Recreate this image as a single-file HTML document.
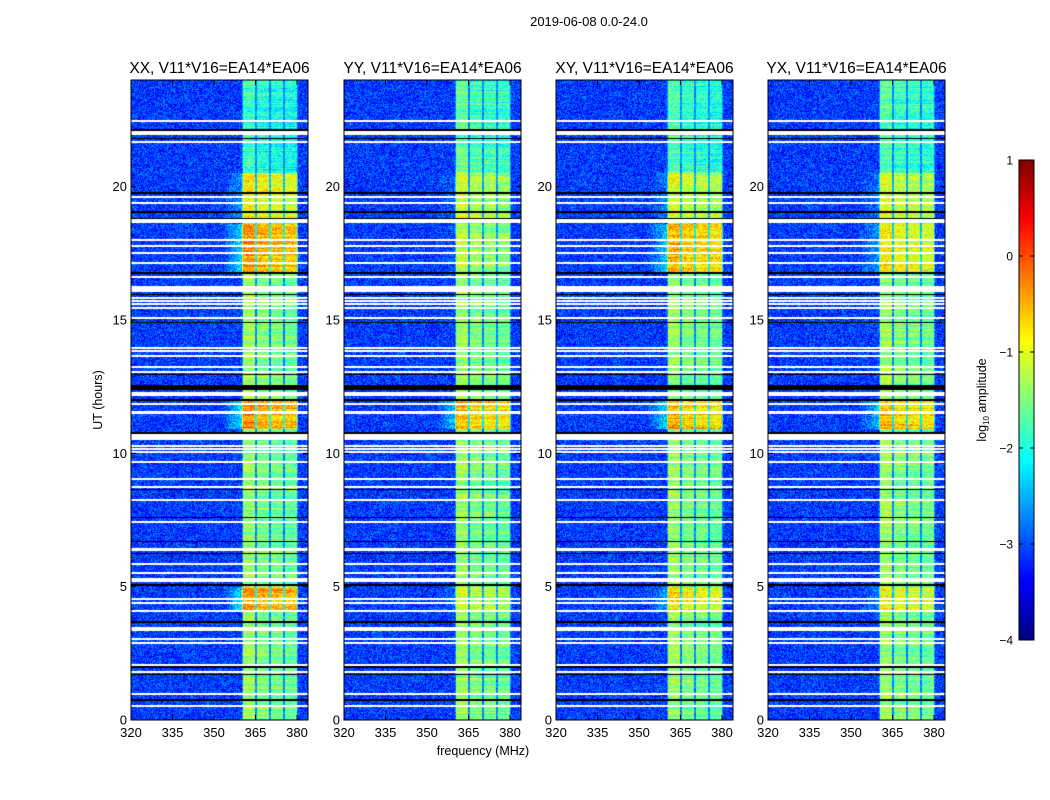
<!DOCTYPE html>
<html><head><meta charset="utf-8">
<style>
html,body{margin:0;padding:0;background:#fff;}
#wrap{position:relative;width:1050px;height:800px;overflow:hidden;font-family:"Liberation Sans",sans-serif;}
canvas,svg{position:absolute;left:0;top:0;}
</style></head>
<body>
<div id="wrap">
<canvas id="cv" width="1050" height="800"></canvas>
<svg id="sv" width="1050" height="800"></svg>
</div>
<script>
// ---------- data ----------
const panelTitles = ["XX, V11*V16=EA14*EA06","YY, V11*V16=EA14*EA06","XY, V11*V16=EA14*EA06","YX, V11*V16=EA14*EA06"];
const freqTicks = [320,335,350,365,380];
const timeTicks = [0,5,10,15,20];
const cbarTicks = [1,0,-1,-2,-3,-4];
const bgLevel = -3.1;
// sub-band stripes [fStart,fEnd,level]
const bandStripes = [[360.5,364.8,-1.35],[365.5,369.9,-1.5],[370.6,374.9,-1.55],[375.7,380.0,-1.6]];
// flagged (white) rows, hours [start,end]
const flagRows = [[22.42,22.50],[21.93,22.07],[21.62,21.72],[19.58,19.64],[19.36,19.42],[18.62,18.78],[17.97,18.03],[17.75,17.81],[17.48,17.54],[17.11,17.17],[16.58,16.64],[16.21,16.27],[16.13,16.19],[16.06,16.12],[15.80,15.86],[15.68,15.74],[15.57,15.63],[15.42,15.48],[15.05,15.11],[13.92,13.98],[13.81,13.87],[13.62,13.68],[13.21,13.27],[13.02,13.08],[12.15,12.30],[11.82,11.88],[11.46,11.60],[10.50,10.74],[10.24,10.30],[10.13,10.19],[10.02,10.08],[9.64,9.70],[9.01,9.07],[8.71,8.77],[8.22,8.28],[7.39,7.45],[6.33,6.46],[5.82,5.88],[5.48,5.54],[5.16,5.32],[4.51,4.57],[4.36,4.42],[4.06,4.12],[3.34,3.49],[3.01,3.07],[2.86,2.92],[2.03,2.09],[1.77,1.83],[0.94,1.00],[0.49,0.55]];
// black rows (hours)
const blackRows = [[22.10,22.15],[21.77,21.82],[19.74,19.79],[19.03,19.08],[18.78,18.82],[16.74,16.79],[15.92,15.97],[14.87,14.92],[12.92,12.97],[12.37,12.57],[11.98,12.03],[10.74,10.79],[8.61,8.66],[7.56,7.61],[6.66,6.71],[6.21,6.26],[5.04,5.09],[3.65,3.70],[1.94,2.02],[1.67,1.72],[0.73,0.78]];
// per-panel boosts [hStart,hEnd,add]
const boostsXX = [[18.8,20.5,0.55],[16.8,18.6,1.0],[10.9,11.95,1.05],[4.05,5.0,1.05]];
const boostsYY = [[18.8,20.5,0.25],[16.8,18.6,0.15],[10.9,11.95,0.85],[4.05,5.0,0.3]];
const boostsXY = [[18.8,20.5,0.35],[16.8,18.6,0.85],[10.9,11.95,0.9],[4.05,5.0,0.6]];
const boostsYX = [[18.8,20.5,0.35],[16.8,18.6,0.55],[10.9,11.95,0.8],[4.05,5.0,0.45]];
const panelBoosts = [boostsXX,boostsYY,boostsXY,boostsYX];
const topBandDrop = [0.5,0.3,0.4,0.35]; // band dimmer above 20.5h

// ---------- geometry ----------
const lefts=[131,344,556,768], PW=177, PT=80, PH=640, PXM=2.767;
const fx=(p,f)=>lefts[p]+(f-320)*PXM;
const ty=h=>720-h*(PH/24);
const xf=(p,x)=>320+(x-lefts[p])/PXM;
const yt=y=>(720-y)/(PH/24);

function jet(v){
  let x=Math.max(0,Math.min(1,(v+4)/5));
  const c=t=>Math.round(255*Math.max(0,Math.min(1,t)));
  return [c(1.5-Math.abs(4*x-3)),c(1.5-Math.abs(4*x-2)),c(1.5-Math.abs(4*x-1))];
}
function hash(a,b){let h=(a*374761393+b*668265263)|0;h=(h^(h>>>13))*1274126177|0;h=h^(h>>>16);return ((h>>>0)%10000)/10000;}

const cv=document.getElementById('cv');const ctx=cv.getContext('2d');
const img=ctx.createImageData(1050,800);
function put(x,y,r,g,b){const i=(y*1050+x)*4;img.data[i]=r;img.data[i+1]=g;img.data[i+2]=b;img.data[i+3]=255;}
for(let y=0;y<800;y++)for(let x=0;x<1050;x++)put(x,y,255,255,255);
function inRows(rows,h){for(const r of rows)if(h>=r[0]&&h<=r[1])return true;return false;}
for(let p=0;p<4;p++){
  for(let y=PT;y<PT+PH;y++){
    const h=yt(y+0.5);
    const isW=inRows(flagRows,h), isB=inRows(blackRows,h);
    let boost=0;for(const b of panelBoosts[p])if(h>=b[0]&&h<=b[1])boost=b[2];
    const rowN=(hash(y,p+7)-0.5)*0.5;
    for(let x=lefts[p];x<lefts[p]+PW;x++){
      if(isW){put(x,y,255,255,255);continue;}
      if(isB){put(x,y,0,0,0);continue;}
      const f=xf(p,x+0.5);
      let v=bgLevel+(hash(x*3+p,y)-0.5)*1.0;
      let inBand=false;
      for(const s of bandStripes){if(f>=s[0]&&f<=s[1]){v=s[2]+rowN+(hash(x,y*5+p)-0.5)*0.8;inBand=true;}}
      if(!inBand&&f>360&&f<380.5)v=-2.7+(hash(x,y)-0.5)*0.6+boost*0.6;
      if(inBand){v+=boost;if(h>20.5)v-=topBandDrop[p];}
      else if(f>353&&f<=360.5)v+=boost*0.9*(f-353)/7.5;
      put(x,y,...jet(v));
    }
  }
}
for(let y=160;y<640;y++){const v=1-(y-160)/480*5;const c=jet(v);for(let x=1019;x<1034;x++)put(x,y,...c);}
ctx.putImageData(img,0,0);

// ---------- axes (SVG) ----------
const sv=document.getElementById('sv');const NS="http://www.w3.org/2000/svg";
function el(tag,attrs,txt){const e=document.createElementNS(NS,tag);for(const k in attrs)e.setAttribute(k,attrs[k]);if(txt!==undefined)e.textContent=txt;sv.appendChild(e);return e;}
for(let p=0;p<4;p++){
  const r=el('rect',{x:lefts[p],y:PT,width:PW,height:PH,fill:'none',stroke:'#000','stroke-width':1});
  
  
  const t=el('text',{x:lefts[p]+PW/2,y:73,'text-anchor':'middle','font-size':15.5},panelTitles[p]);
  
  
  for(const f of freqTicks){
    const x=fx(p,f);
    el('line',{x1:x,y1:720,x2:x,y2:715,stroke:'#000'});
    el('line',{x1:x,y1:80,x2:x,y2:85,stroke:'#000'});
    const l=el('text',{x:x,y:737,'text-anchor':'middle','font-size':13},f);
    
    
  }
  for(const h of timeTicks){
    const y=ty(h);
    el('line',{x1:lefts[p],y1:y,x2:lefts[p]+5,y2:y,stroke:'#000'});
    el('line',{x1:lefts[p]+PW,y1:y,x2:lefts[p]+PW-5,y2:y,stroke:'#000'});
    const l=el('text',{x:lefts[p]-4,y:y+4.5,'text-anchor':'end','font-size':13},h);
    
    
  }
}
const st=el('text',{x:589,y:26,'text-anchor':'middle','font-size':13},'2019-06-08 0.0-24.0');


const xl=el('text',{x:483,y:755,'text-anchor':'middle','font-size':12.5},'frequency (MHz)');


const yl=el('text',{x:0,y:0,transform:'translate(102,400) rotate(-90)','text-anchor':'middle','font-size':12.5},'UT (hours)');


const cb=el('rect',{x:1019,y:160,width:15,height:480,fill:'none',stroke:'#000'});


for(const v of cbarTicks){
  const y=160+(1-v)/5*480;
  el('line',{x1:1019,y1:y,x2:1023,y2:y,stroke:'#000'});
  el('line',{x1:1034,y1:y,x2:1030,y2:y,stroke:'#000'});
  const l=el('text',{x:1013,y:y+4.5,'text-anchor':'end','font-size':12},(v<0?'\u2212'+(-v):v));
  
  
}
const cl=el('text',{x:0,y:0,transform:'translate(986,400) rotate(-90)','text-anchor':'middle','font-size':12.5});


cl.innerHTML='log<tspan font-size="8" dy="3">10</tspan><tspan dy="-3"> amplitude</tspan>';
</script>
</body></html>
